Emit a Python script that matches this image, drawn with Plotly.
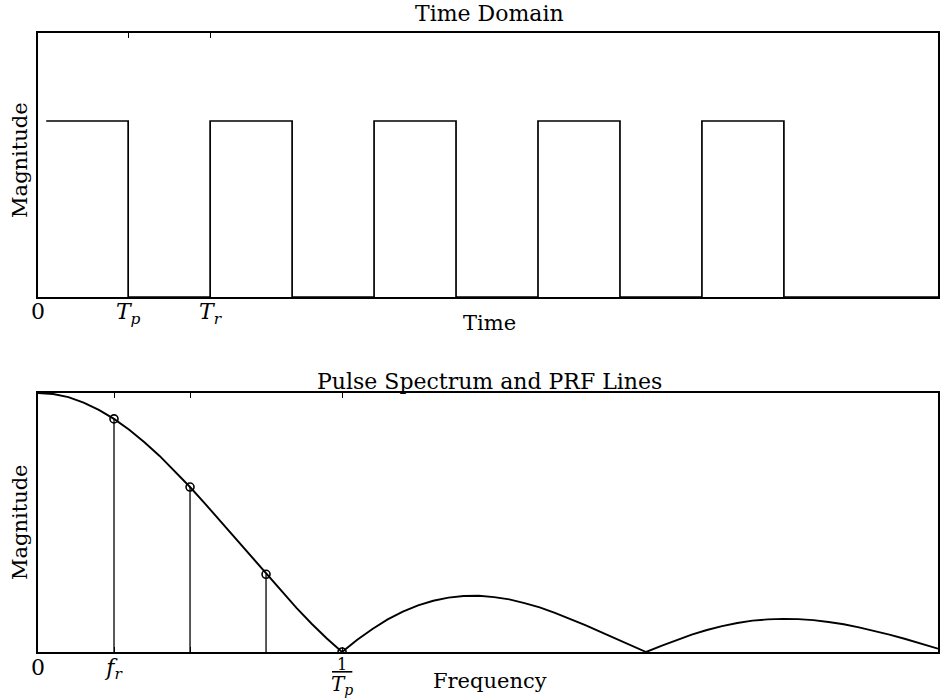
import plotly.graph_objects as go
from plotly.subplots import make_subplots

# ---- Time-domain pulse train (time in units of the pulse width) ----
pulse_starts = [0.1, 2.1, 4.1, 6.1, 8.1]
pulse_width = 1.0
pulse_height = 1.0
time_end = 10.98
time_tick_vals = [0.0, 1.1, 2.1]
time_tick_text = ["0", "<i>T<sub>p</sub></i>", "<i>T<sub>r</sub></i>"]

# ---- Pulse spectrum magnitude (frequency in units of 1/Tp) ----
freq = [0.00, 0.05, 0.10, 0.15, 0.20, 0.25, 0.30, 0.35, 0.40, 0.45,
        0.50, 0.55, 0.60, 0.65, 0.70, 0.75, 0.80, 0.85, 0.90, 0.95,
        1.00, 1.05, 1.10, 1.15, 1.20, 1.25, 1.30, 1.35, 1.40, 1.45,
        1.50, 1.55, 1.60, 1.65, 1.70, 1.75, 1.80, 1.85, 1.90, 1.95,
        2.00, 2.05, 2.10, 2.15, 2.20, 2.25, 2.30, 2.35, 2.40, 2.45,
        2.50, 2.55, 2.60, 2.65, 2.70, 2.75, 2.80, 2.85, 2.90, 2.95, 2.96]
spectrum = [1.000, 0.996, 0.984, 0.963, 0.935, 0.900, 0.858, 0.810, 0.757, 0.699,
            0.637, 0.572, 0.505, 0.436, 0.368, 0.300, 0.234, 0.170, 0.109, 0.052,
            0.000, 0.047, 0.089, 0.126, 0.156, 0.180, 0.198, 0.210, 0.216, 0.217,
            0.212, 0.203, 0.189, 0.172, 0.151, 0.129, 0.104, 0.078, 0.052, 0.026,
            0.000, 0.024, 0.047, 0.067, 0.085, 0.100, 0.112, 0.121, 0.126, 0.128,
            0.127, 0.123, 0.116, 0.107, 0.095, 0.082, 0.067, 0.051, 0.034, 0.017, 0.013]

# PRF lines sampling the spectrum
prf_freqs = [0.25, 0.50, 0.75, 1.00]
prf_mags = [0.900, 0.637, 0.300, 0.000]
first_null = 1.0  # 1/Tp
freq_tick_vals = [0.0, 0.25, 0.5, first_null]
freq_tick_text = ["<span style='font-size:22px'>0</span>",
                  "<span style='font-size:22px'><i>f<sub>r</sub></i></span>",
                  "", ""]
first_null_label = ("<u>&nbsp;1&nbsp;</u><br>"
                    "<span style='font-size:20px'><i>T<sub>p</sub></i></span>")

FONT = "DejaVu Serif"
BLACK = "#000000"

fig = make_subplots(rows=2, cols=1, vertical_spacing=0.0)

# build the rectangular waveform from the pulse edges
t_pts, a_pts = [], []
for i, s in enumerate(pulse_starts):
    e = s + pulse_width
    if i > 0:
        t_pts += [s]
        a_pts += [0.0]
    t_pts += [s, e, e]
    a_pts += [pulse_height, pulse_height, 0.0]
t_pts.append(time_end)
a_pts.append(0.0)

fig.add_trace(go.Scatter(x=t_pts, y=a_pts, mode="lines",
                         line=dict(color=BLACK, width=1.7),
                         hoverinfo="skip", showlegend=False), row=1, col=1)

# spectrum envelope
fig.add_trace(go.Scatter(x=freq, y=spectrum, mode="lines",
                         line=dict(color=BLACK, width=1.9),
                         hoverinfo="skip", showlegend=False), row=2, col=1)

# PRF stems
stem_x, stem_y = [], []
for f, m in zip(prf_freqs, prf_mags):
    stem_x += [f, f, None]
    stem_y += [0.0, m, None]
fig.add_trace(go.Scatter(x=stem_x, y=stem_y, mode="lines",
                         line=dict(color=BLACK, width=1.3),
                         hoverinfo="skip", showlegend=False), row=2, col=1)
fig.add_trace(go.Scatter(x=prf_freqs, y=prf_mags, mode="markers",
                         marker=dict(symbol="circle-open", size=8,
                                     color=BLACK, line=dict(width=1.6)),
                         hoverinfo="skip", showlegend=False), row=2, col=1)

axis_common = dict(showline=True, linecolor=BLACK, linewidth=1.8, mirror="ticks",
                   showgrid=False, zeroline=False, ticks="inside", ticklen=5,
                   tickwidth=1.3, tickcolor=BLACK, automargin=False)

fig.update_xaxes(**axis_common, range=[0, time_end], tickmode="array",
                 tickvals=time_tick_vals, ticktext=time_tick_text,
                 tickfont=dict(family=FONT, size=22, color=BLACK),
                 ticklabelstandoff=-6, domain=[0, 1], row=1, col=1)
fig.update_xaxes(**axis_common, range=[0, 2.96], tickmode="array",
                 tickvals=freq_tick_vals, ticktext=freq_tick_text,
                 tickfont=dict(family=FONT, size=14, color=BLACK),
                 ticklabelstandoff=4, domain=[0, 1], row=2, col=1)
fig.update_yaxes(showline=True, linecolor=BLACK, linewidth=1.8, mirror=True,
                 showgrid=False, zeroline=False, ticks="", showticklabels=False,
                 automargin=False)
fig.update_yaxes(range=[0, 1.5], domain=[0.5735, 1.0], row=1, col=1)
fig.update_yaxes(range=[0, 1.0], domain=[0.0, 0.4184], row=2, col=1)

# fraction label under the first spectral null
fig.add_annotation(xref="x2", yref="paper", x=first_null, y=-0.001,
                   xanchor="center", yanchor="top", showarrow=False,
                   text=first_null_label,
                   font=dict(family=FONT, size=16, color=BLACK))

labels = [
    dict(text="Time Domain", x=0.502, y=1.031, size=22),
    dict(text="Time", x=0.502, y=0.531, size=21),
    dict(text="Pulse Spectrum and PRF Lines", x=0.502, y=0.437, size=22),
    dict(text="Frequency", x=0.502, y=-0.047, size=21),
    dict(text="Magnitude", x=-0.02, y=0.795, size=21, textangle=-90),
    dict(text="Magnitude", x=-0.02, y=0.21, size=21, textangle=-90),
]
for lab in labels:
    size = lab.pop("size")
    fig.add_annotation(xref="paper", yref="paper", showarrow=False,
                       xanchor="center", yanchor="middle",
                       font=dict(family=FONT, size=size, color=BLACK), **lab)

fig.update_layout(width=940, height=700,
                  margin=dict(l=38, r=2, t=33, b=48),
                  paper_bgcolor="white", plot_bgcolor="white",
                  font=dict(family=FONT, size=21, color=BLACK))

fig.write_html("out.html")
